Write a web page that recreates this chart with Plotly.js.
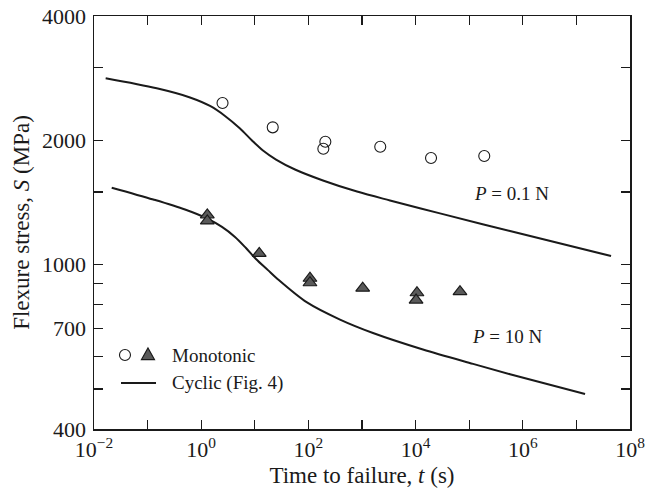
<!DOCTYPE html>
<html>
<head>
<meta charset="utf-8">
<script src="https://cdn.plot.ly/plotly-3.0.1.min.js"></script>
<style>html,body{margin:0;padding:0;background:#fff;}#chart{width:649px;height:493px;}</style>
</head>
<body>
<div id="chart"></div>
<script>
// Monotonic data, P = 0.1 N (open circles)
const monoLowLoadT = [2.5, 21.6, 207, 190, 2190, 19400, 191000];
const monoLowLoadS = [2462, 2150, 1985, 1909, 1930, 1813, 1833];
// Monotonic data, P = 10 N (filled triangles)
const monoHighLoadT = [1.3, 1.3, 12.1, 107, 107, 1030, 10600, 10200, 67300];
const monoHighLoadS = [1319, 1276, 1065, 927, 904, 877, 855, 821, 860];
// Cyclic curve, P = 0.1 N
const cycLowLoadT = [0.0165, 0.148, 0.618, 1.46, 2.78, 5.30, 8.87, 14.2, 24.9, 56.2, 187, 807, 3330, 28500, 577000, 4.43e7];
const cycLowLoadS = [2827, 2673, 2540, 2422, 2291, 2136, 1998, 1890, 1797, 1700, 1599, 1503, 1430, 1331, 1206, 1049];
// Cyclic curve, P = 10 N
const cycHighLoadT = [0.0214, 0.128, 0.499, 1.28, 2.44, 4.27, 6.85, 10.5, 17.6, 25.9, 94.2, 389, 1603, 13700, 118000, 577000, 1.45e7];
const cycHighLoadS = [1536, 1438, 1360, 1294, 1234, 1167, 1097, 1032, 970, 926, 810, 736, 683, 623, 575, 543, 486];
// Tick definitions
const xTickVals = [1e-2, 1e0, 1e2, 1e4, 1e6, 1e8];
const xTickText = ['10<sup>−2</sup>', '10<sup>0</sup>', '10<sup>2</sup>', '10<sup>4</sup>', '10<sup>6</sup>', '10<sup>8</sup>'];
const xMinorVals = [1e-1, 1e1, 1e3, 1e5, 1e7];
const yTickVals = [400, 700, 1000, 2000, 4000];
const yTickText = ['400', '700', '1000', '2000', '4000'];
const yMinorVals = [500, 600, 800, 900, 1500, 3000];
const labels = {
  x: 'Time to failure, <i>t</i> (s)',
  y: 'Flexure stress, <i>S</i> (MPa)',
  low: '<i>P</i> = 0.1 N',
  high: '<i>P</i> = 10 N',
  mono: 'Monotonic',
  cyc: 'Cyclic (Fig. 4)'
};

const ink = '#1a1a1a';
const serif = 'Liberation Serif, Times New Roman, serif';

const traces = [
  {x: cycLowLoadT, y: cycLowLoadS, mode: 'lines', line: {color: ink, width: 2, shape: 'spline', smoothing: 0.9}, hoverinfo: 'skip'},
  {x: cycHighLoadT, y: cycHighLoadS, mode: 'lines', line: {color: ink, width: 2, shape: 'spline', smoothing: 0.9}, hoverinfo: 'skip'},
  {x: monoLowLoadT, y: monoLowLoadS, mode: 'markers', marker: {symbol: 'circle-open', size: 11, color: ink, line: {width: 1.1, color: ink}}},
  {x: monoHighLoadT, y: monoHighLoadS, mode: 'markers', marker: {symbol: 'triangle-up', size: 12, color: '#5a5a5a', line: {width: 1.2, color: ink}}}
];

function axisCommon(minorVals) {
  return {
    showline: true, linecolor: ink, linewidth: 1.5, mirror: 'ticks',
    ticks: 'inside', ticklen: 9, tickwidth: 1.2, tickcolor: ink,
    showgrid: false, zeroline: false,
    tickfont: {family: serif, size: 22, color: ink},
    tickmode: 'array',
    minor: {tickmode: 'array', tickvals: minorVals, ticks: 'inside', ticklen: 9, tickwidth: 1.2, tickcolor: ink, showgrid: false}
  };
}

const layout = {
  width: 649, height: 493,
  margin: {l: 94, r: 19, t: 16, b: 64},
  paper_bgcolor: '#fff', plot_bgcolor: '#fff',
  showlegend: false,
  xaxis: Object.assign(axisCommon(xMinorVals), {
    type: 'log', range: [-2, 8],
    tickvals: xTickVals, ticktext: xTickText,
    title: {text: labels.x, font: {family: serif, size: 23, color: ink}, standoff: 6}
  }),
  yaxis: Object.assign(axisCommon(yMinorVals), {
    type: 'log', range: [Math.log10(400), Math.log10(4000)],
    tickvals: yTickVals, ticktext: yTickText,
    ticklabelstandoff: 2,
    title: {text: labels.y, font: {family: serif, size: 23, color: ink}, standoff: 6}
  }),
  shapes: [
    {type: 'circle', xref: 'paper', yref: 'paper', xsizemode: 'pixel', ysizemode: 'pixel',
     xanchor: 0.0578, yanchor: 0.179, x0: -5.5, x1: 5.5, y0: -5.5, y1: 5.5,
     line: {color: ink, width: 1.1}},
    {type: 'path', xref: 'paper', yref: 'paper', xsizemode: 'pixel', ysizemode: 'pixel',
     xanchor: 0.1007, yanchor: 0.179, path: 'M -6.5,-4.5 L 6.5,-4.5 L 0,7 Z',
     fillcolor: '#5a5a5a', line: {color: ink, width: 1.2}},
    {type: 'line', xref: 'paper', yref: 'paper', x0: 0.0504, x1: 0.1157, y0: 0.1114, y1: 0.1114,
     line: {color: ink, width: 2}}
  ],
  annotations: [
    {xref: 'paper', yref: 'paper', x: 0.1418, y: 0.179, xanchor: 'left', yanchor: 'middle', showarrow: false,
     text: labels.mono, font: {family: serif, size: 19, color: ink}},
    {xref: 'paper', yref: 'paper', x: 0.1418, y: 0.1114, xanchor: 'left', yanchor: 'middle', showarrow: false,
     text: labels.cyc, font: {family: serif, size: 19, color: ink}},
    {xref: 'paper', yref: 'paper', x: 0.778, y: 0.571, xanchor: 'center', yanchor: 'middle', showarrow: false,
     text: labels.low, font: {family: serif, size: 19, color: ink}},
    {xref: 'paper', yref: 'paper', x: 0.772, y: 0.225, xanchor: 'center', yanchor: 'middle', showarrow: false,
     text: labels.high, font: {family: serif, size: 19, color: ink}}
  ]
};

Plotly.newPlot('chart', traces, layout, {staticPlot: true, displayModeBar: false});
</script>
</body>
</html>
